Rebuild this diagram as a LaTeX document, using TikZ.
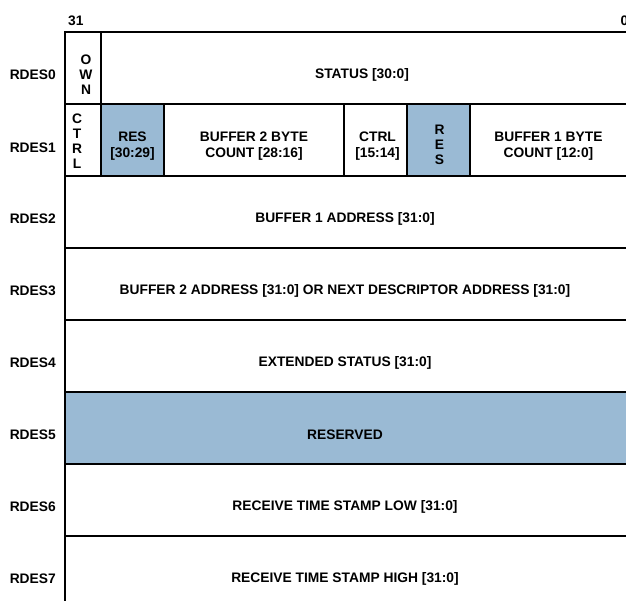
\documentclass[tikz,border=0pt]{standalone}
\usepackage{fontspec}
\setmainfont{Liberation Sans}
\usetikzlibrary{positioning}
\definecolor{resblue}{RGB}{154,186,212}

\begin{document}
\begin{tikzpicture}[x=1pt, y=-1pt,
    fld/.style={draw=black, line width=2pt, fill=#1, anchor=north west, inner sep=0pt, outer sep=0pt, minimum height=72pt},
    fld/.default={white},
    txt/.style={font=\fontsize{13.8}{16.5}\selectfont\bfseries, align=center, inner sep=0pt},
    vtxt/.style={font=\fontsize{13.8}{15}\selectfont\bfseries, align=center, inner sep=0pt},
]
\useasboundingbox (0,0) rectangle (626,601);

% RDES0
\node[fld, minimum width=36pt] (own) at (65,32) {};
\node[fld, minimum width=530pt] (status) at (101,32) {};

% RDES1
\node[fld, minimum width=36pt] (ctrl) at (65,104) {};
\node[fld=resblue, minimum width=63pt] (resA) at (101,104) {};
\node[fld, minimum width=180pt] (bcntB) at (164,104) {};
\node[fld, minimum width=63pt] (ctrlB) at (344,104) {};
\node[fld=resblue, minimum width=63pt] (resB) at (407,104) {};
\node[fld, minimum width=161pt] (bcntA) at (470,104) {};

% RDES2 .. RDES7
\node[fld, minimum width=566pt] (addrA) at (65,176) {};
\node[fld, minimum width=566pt] (addrB) at (65,248) {};
\node[fld, minimum width=566pt] (extst) at (65,320) {};
\node[fld=resblue, minimum width=566pt] (rsvd) at (65,392) {};
\node[fld, minimum width=566pt] (tslow) at (65,464) {};
\node[fld, minimum width=566pt] (tshigh) at (65,536) {};

% bit numbers
\node[txt, anchor=south west] (msb) at ([xshift=3pt, yshift=6pt]own.north west) {31};
\node[txt, anchor=south west] (lsb) at ([xshift=-10.5pt, yshift=6pt]status.north east) {0};

% field texts
\node[vtxt] (ownT) at ([xshift=3pt, yshift=-7pt]own.center) {O\\W\\N};
\node[txt] (statusT) at ([xshift=-4pt, yshift=-7pt]status.center) {STATUS [30:0]};
\node[vtxt] (ctrlT) at ([xshift=-6pt, yshift=-1pt]ctrl.center) {C\\T\\R\\L};
\node[txt] (resAT) at ([yshift=-6pt]resA.center) {RES\\{[30:29]}};
\node[txt] (bcntBT) at ([yshift=-6pt]bcntB.center) {BUFFER 2 BYTE\\COUNT [28:16]};
\node[txt] (ctrlBT) at ([xshift=2pt, yshift=-6pt]ctrlB.center) {CTRL\\{[15:14]}};
\node[vtxt] (resBT) at ([xshift=1pt, yshift=-5pt]resB.center) {R\\E\\S};
\node[txt] (bcntAT) at ([xshift=-2pt, yshift=-6pt]bcntA.center) {BUFFER 1 BYTE\\COUNT [12:0]};
\node[txt] (addrAT) at ([xshift=-3pt, yshift=-7pt]addrA.center) {BUFFER 1 ADDRESS [31:0]};
\node[txt] (addrBT) at ([xshift=-3pt, yshift=-7pt]addrB.center) {BUFFER 2 ADDRESS [31:0] OR NEXT DESCRIPTOR ADDRESS [31:0]};
\node[txt] (extstT) at ([xshift=-3pt, yshift=-7pt]extst.center) {EXTENDED STATUS [31:0]};
\node[txt] (rsvdT) at ([xshift=-3pt, yshift=-7pt]rsvd.center) {RESERVED};
\node[txt] (tslowT) at ([xshift=-3pt, yshift=-7pt]tslow.center) {RECEIVE TIME STAMP LOW [31:0]};
\node[txt] (tshighT) at ([xshift=-3pt, yshift=-7pt]tshigh.center) {RECEIVE TIME STAMP HIGH [31:0]};

% row names
\node[txt, left=9pt of own, yshift=-7pt] (r0) {RDES0};
\node[txt, left=9pt of ctrl, yshift=-8pt] (r1) {RDES1};
\node[txt, left=9pt of addrA, yshift=-7pt] (r2) {RDES2};
\node[txt, left=9pt of addrB, yshift=-7pt] (r3) {RDES3};
\node[txt, left=9pt of extst, yshift=-7pt] (r4) {RDES4};
\node[txt, left=9pt of rsvd, yshift=-7pt] (r5) {RDES5};
\node[txt, left=9pt of tslow, yshift=-7pt] (r6) {RDES6};
\node[txt, left=9pt of tshigh, yshift=-7pt] (r7) {RDES7};

\end{tikzpicture}
\end{document}
